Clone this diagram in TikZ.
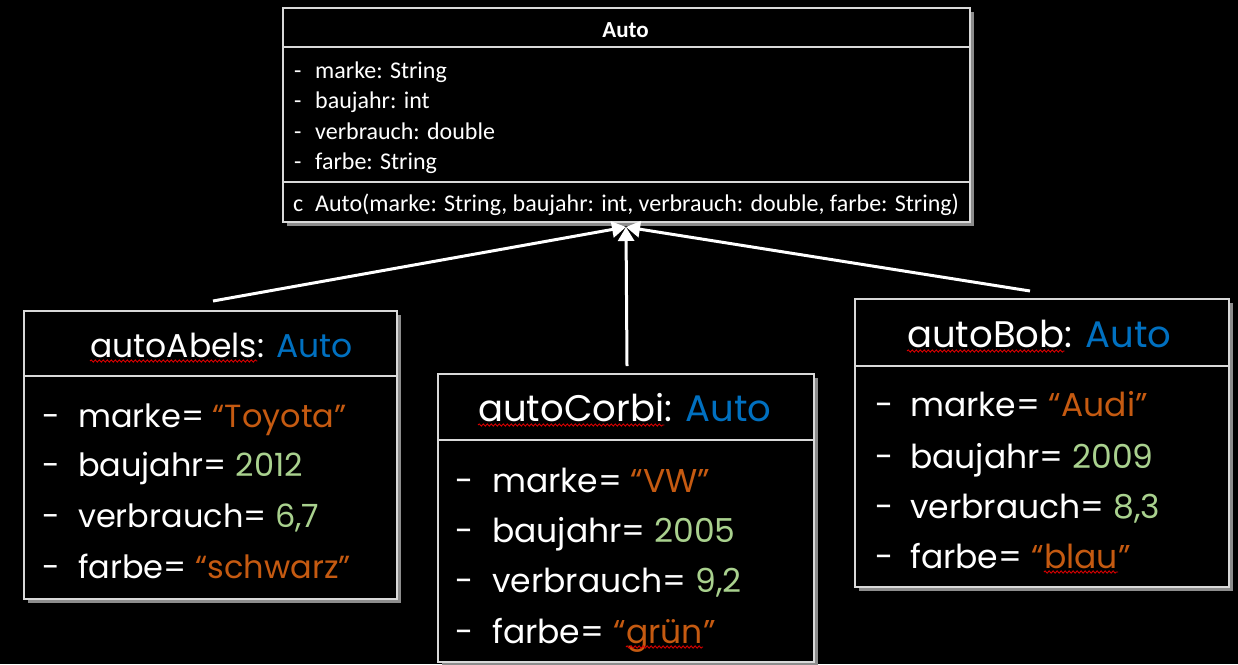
\documentclass[tikz,border=0pt]{standalone}
\usepackage{fontspec}
\setmainfont{Carlito}
\newfontfamily\classfont{Carlito}
\newfontfamily\objfont{Poppins}
\usetikzlibrary{arrows.meta,shadows,decorations.pathmorphing}
\definecolor{strc}{HTML}{C55A11}
\definecolor{numc}{HTML}{A9D18E}
\definecolor{typc}{HTML}{0070C0}
\definecolor{boxline}{HTML}{D9D9D9}
\definecolor{shadowc}{HTML}{8C8C8C}
\tikzset{
 umlbox/.style={draw=boxline, line width=2pt, fill=black, drop shadow={shadow xshift=4pt, shadow yshift=-4pt, fill=shadowc, opacity=1}, anchor=north west, inner sep=0pt},
 divline/.style={draw=boxline, line width=2pt},
 ctxt/.style={text=white, font=\classfont\fontsize{24}{28}\selectfont, anchor=base west, inner sep=0pt},
 otxt/.style={text=white, font=\objfont\fontsize{33}{38}\selectfont, anchor=base west, inner sep=0pt},
 otxtA/.style={otxt, font=\objfont\fontsize{32}{38}\selectfont},
 ttlA/.style={otxt, font=\objfont\fontsize{33}{38}\selectfont},
 ttlB/.style={otxt, font=\objfont\fontsize{37}{42}\selectfont},
 squig/.style={draw=red!85!black, line width=0.9pt, decorate, decoration={snake, amplitude=1.1pt, segment length=4pt}},
 inh/.style={draw=white, line width=3pt, -{Triangle[width=16pt,length=14pt]}},
}
\begin{document}
\begin{tikzpicture}[x=1pt,y=-1pt]
\fill[black] (0,0) rectangle (1238,664);
\useasboundingbox (0,0) rectangle (1238,664);

% ---------- class box ----------
\node[umlbox, minimum width=687pt, minimum height=214pt] (auto) at (282,7) {};
\draw[divline] (auto.west |- 0,47) -- (auto.east |- 0,47);
\draw[divline] (auto.west |- 0,182) -- (auto.east |- 0,182);
\node[ctxt, anchor=base, font=\classfont\bfseries\fontsize{23}{27}\selectfont] (autoh) at (625.5,37) {Auto};
\node[ctxt] (cd1) at (294,78) {-};
\node[ctxt] (ca1) at (315,78) {marke: String};
\node[ctxt] (cd2) at (294,108) {-};
\node[ctxt] (ca2) at (315,108) {baujahr: int};
\node[ctxt] (cd3) at (294,139) {-};
\node[ctxt] (ca3) at (315,139) {verbrauch: double};
\node[ctxt] (cd4) at (294,169) {-};
\node[ctxt] (ca4) at (315,169) {farbe: String};
\node[ctxt] (cc) at (293,211) {c};
\node[ctxt] (cm) at (315,211) {Auto(marke: String, baujahr: int, verbrauch: double, farbe: String)};

% ---------- autoAbels ----------
\node[umlbox, minimum width=373pt, minimum height=288pt] (abels) at (23,310) {};
\draw[divline] (abels.west |- 0,376) -- (abels.east |- 0,376);
\node[ttlA] (abn) at (90,357) {autoAbels};
\node[ttlA] (abt) at (abn.base east) {: \textcolor{typc}{Auto}};
\draw[squig] ([yshift=-4pt]abn.base west) -- ([yshift=-4pt]abn.base east);
\node[otxtA] (abd1) at (42,427) {-};
\node[otxtA] (abr1) at (78,427) {marke= \textcolor{strc}{“Toyota”}};
\node[otxtA] (abd2) at (42,476) {-};
\node[otxtA] (abr2) at (78,476) {baujahr= \textcolor{numc}{2012}};
\node[otxtA] (abd3) at (42,527) {-};
\node[otxtA] (abr3) at (78,527) {verbrauch= \textcolor{numc}{6,7}};
\node[otxtA] (abd4) at (42,578) {-};
\node[otxtA] (abr4) at (78,578) {farbe= \textcolor{strc}{“schwarz”}};

% ---------- autoCorbi ----------
\node[umlbox, minimum width=376pt, minimum height=288pt] (corbi) at (437,373) {};
\draw[divline] (corbi.west |- 0,440) -- (corbi.east |- 0,440);
\node[ttlB] (con) at (478,421) {autoCorbi};
\node[ttlB] (cot) at (con.base east) {: \textcolor{typc}{Auto}};
\draw[squig] ([yshift=-4pt]con.base west) -- ([yshift=-4pt]con.base east);
\node[otxt] (cod1) at (455,492) {-};
\node[otxt] (cor1) at (492,492) {marke= \textcolor{strc}{“VW”}};
\node[otxt] (cod2) at (455,542) {-};
\node[otxt] (cor2) at (492,542) {baujahr= \textcolor{numc}{2005}};
\node[otxt] (cod3) at (455,592) {-};
\node[otxt] (cor3) at (492,592) {verbrauch= \textcolor{numc}{9,2}};
\node[otxt] (cod4) at (455,643) {-};
\node[otxt] (cor4a) at (492,643) {farbe= \textcolor{strc}{“}};
\node[otxt] (cor4b) at (cor4a.base east) {\textcolor{strc}{grün}};
\node[otxt] (cor4c) at (cor4b.base east) {\textcolor{strc}{”}};
\draw[squig] ([yshift=-4pt]cor4b.base west) -- ([yshift=-4pt]cor4b.base east);

% ---------- autoBob ----------
\node[umlbox, minimum width=374pt, minimum height=288pt] (bob) at (854,298) {};
\draw[divline] (bob.west |- 0,366) -- (bob.east |- 0,366);
\node[ttlB] (bon) at (907,347) {autoBob};
\node[ttlB] (bot) at (bon.base east) {: \textcolor{typc}{Auto}};
\draw[squig] ([yshift=-4pt]bon.base west) -- ([yshift=-4pt]bon.base east);
\node[otxt] (bod1) at (875,416) {-};
\node[otxt] (bor1) at (910,416) {marke= \textcolor{strc}{“Audi”}};
\node[otxt] (bod2) at (875,468) {-};
\node[otxt] (bor2) at (910,468) {baujahr= \textcolor{numc}{2009}};
\node[otxt] (bod3) at (875,518) {-};
\node[otxt] (bor3) at (910,518) {verbrauch= \textcolor{numc}{8,3}};
\node[otxt] (bod4) at (875,568) {-};
\node[otxt] (bor4a) at (910,568) {farbe= \textcolor{strc}{“}};
\node[otxt] (bor4b) at (bor4a.base east) {\textcolor{strc}{blau}};
\node[otxt] (bor4c) at (bor4b.base east) {\textcolor{strc}{”}};
\draw[squig] ([yshift=-4pt]bor4b.base west) -- ([yshift=-4pt]bor4b.base east);

% ---------- inheritance arrows ----------
\coordinate (tip) at (626,227);
\coordinate (sa) at (213,301);
\coordinate (sc) at (627,366);
\coordinate (sb) at (1030,291);
\draw[inh] (sa) -- (tip);
\draw[inh] (sb) -- (tip);
\draw[inh] (sc) -- (tip);
\end{tikzpicture}
\end{document}
